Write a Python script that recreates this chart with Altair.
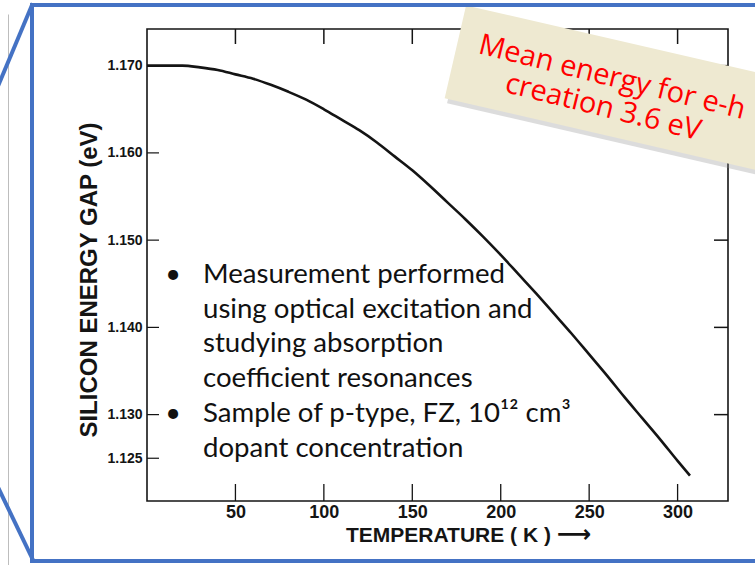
import altair as alt
import pandas as pd

# Silicon band gap versus temperature
temperature_k = [0, 10, 20, 30, 40, 50, 60, 70, 80, 90, 100, 110, 120, 130, 140, 150,
                 160, 170, 180, 190, 200, 210, 220, 230, 240, 250, 260, 270, 280, 290, 300, 307]
energy_gap_ev = [1.1700, 1.1700, 1.1700, 1.1698, 1.1695, 1.1690, 1.1685, 1.1678, 1.1670, 1.1661,
                 1.1650, 1.1638, 1.1626, 1.1612, 1.1596, 1.1580, 1.1562, 1.1543, 1.1524, 1.1504,
                 1.1483, 1.1461, 1.1439, 1.1416, 1.1393, 1.1369, 1.1345, 1.1320, 1.1296, 1.1272,
                 1.1247, 1.1230]

x_ticks = [50, 100, 150, 200, 250, 300]
y_ticks = [1.125, 1.130, 1.140, 1.150, 1.160, 1.170]
right_ticks = [1.130, 1.140, 1.150, 1.160, 1.170]

x_title = "TEMPERATURE ( K )"
x_arrow = "\u27f6"
y_title = "SILICON   ENERGY   GAP   (eV)"

bullet_lines = [
    "Measurement performed",
    "using optical excitation and",
    "studying absorption",
    "coefficient resonances",
    "Sample of p-type, FZ, 10\u00b9\u00b2 cm\u00b3",
    "dopant concentration",
]
note_lines = ["Mean energy for e-h", "creation 3.6 eV"]

# layout (pixels)
W, H = 581, 472
LEFT, TOP = 147, 29
INK = "#141414"
BLUE = "#4472C4"
SANS = "Liberation Sans, Arial, sans-serif"

xs = alt.Scale(domain=[0, 328.5], nice=False, zero=False)
ys = alt.Scale(domain=[1.1201, 1.1742], nice=False, zero=False)

x_axis = alt.Axis(values=x_ticks, title=None, domain=False, ticks=False, grid=False,
                  labelFont=SANS, labelFontSize=18, labelFontWeight="bold", labelColor=INK,
                  labelPadding=2)
y_axis = alt.Axis(values=y_ticks, format=".3f", title=None, domain=False, ticks=False, grid=False,
                  labelFont=SANS, labelFontSize=14, labelFontWeight="bold", labelColor=INK,
                  labelPadding=5)

curve_df = pd.DataFrame({"T": temperature_k, "E": energy_gap_ev})
xt_df = pd.DataFrame({"T": x_ticks})
yt_df = pd.DataFrame({"E": y_ticks})
rt_df = pd.DataFrame({"E": right_ticks})


def one():
    return alt.Data(values=[{}])


def px(x):
    return alt.value(x - LEFT)


def py(y):
    return alt.value(y - TOP)


curve = alt.Chart(curve_df).mark_line(color=INK, strokeWidth=2.6, interpolate="monotone").encode(
    x=alt.X("T:Q", scale=xs, axis=x_axis),
    y=alt.Y("E:Q", scale=ys, axis=y_axis),
)

bottom_ticks = alt.Chart(xt_df).mark_rule(color=INK, strokeWidth=1.3).encode(
    x=alt.X("T:Q", scale=xs, axis=x_axis), y=alt.value(H), y2=alt.value(H - 17))
top_ticks = alt.Chart(xt_df).mark_rule(color=INK, strokeWidth=1.5).encode(
    x=alt.X("T:Q", scale=xs, axis=x_axis), y=alt.value(0), y2=alt.value(15))
left_ticks = alt.Chart(yt_df).mark_rule(color=INK, strokeWidth=1.2).encode(
    y=alt.Y("E:Q", scale=ys, axis=y_axis), x=alt.value(0), x2=alt.value(12))
right_ticks_m = alt.Chart(rt_df).mark_rule(color=INK, strokeWidth=1.5).encode(
    y=alt.Y("E:Q", scale=ys, axis=y_axis), x=alt.value(W), x2=alt.value(W - 14))

x_title_m = alt.Chart(one()).mark_text(
    text=x_title, font=SANS, fontSize=21, fontWeight="bold", color=INK,
    align="left", baseline="alphabetic").encode(x=px(346), y=py(542))
x_arrow_m = alt.Chart(one()).mark_text(
    text=x_arrow, font="DejaVu Sans", fontSize=24, fontWeight="bold", color=INK,
    align="left", baseline="middle").encode(x=px(557), y=py(535))
y_title_m = alt.Chart(one()).mark_text(
    text=y_title, font=SANS, fontSize=24, fontWeight="bold", color=INK,
    align="center", baseline="middle", angle=270).encode(x=px(90), y=py(280))

# bullet list
bullet_text = alt.Chart(one()).mark_text(
    text=bullet_lines, font="Lato", fontSize=27.6, color="#111111", lineHeight=34.7,
    align="left", baseline="alphabetic").encode(x=px(203), y=py(283))
bullet_dots = [
    alt.Chart(one()).mark_text(text="\u2022", font="Lato", fontSize=27, color="#111111",
                               align="center", baseline="alphabetic").encode(x=px(173), y=py(by))
    for by in (283, 422)
]

# sticky note
NOTE_PATH = "M-1,-0.28L1,-0.28L1,0.28L-1,0.28Z"
note_shadow = alt.Chart(one()).mark_point(
    shape=NOTE_PATH, filled=True, color="#8a8a8a", opacity=0.3, strokeWidth=0,
    size=345 ** 2, angle=13).encode(x=px(626), y=py(95))
note = alt.Chart(one()).mark_point(
    shape=NOTE_PATH, filled=True, color="#EEE9D1", opacity=1, strokeWidth=0,
    size=340 ** 2, angle=13).encode(x=px(621), y=py(90))
note_text = [
    alt.Chart(one()).mark_text(text=t, font="Open Sans", fontSize=29, color="#FF0000",
                               align="center", baseline="alphabetic", angle=14).encode(
        x=px(nx), y=py(ny))
    for t, nx, ny in zip(note_lines, (610, 601), (86, 116))
]


# slide callout frame
def seg(x1, y1, x2, y2, color=BLUE, width=4):
    return alt.Chart(one()).mark_rule(color=color, strokeWidth=width, strokeCap="square").encode(
        x=px(x1), y=py(y1), x2=px(x2), y2=py(y2))


frame = [
    seg(8.5, 15, 8.5, 570, color="#BDBDBD", width=1),
    seg(32, 5, 760, 5),
    seg(32, 5, 32, 561),
    seg(32, 561, 760, 561),
    seg(32, 5, -4, 91),
    seg(32, 558, -4, 483),
]

chart = alt.layer(
    curve, bottom_ticks, top_ticks, left_ticks, right_ticks_m,
    x_title_m, x_arrow_m, y_title_m, bullet_text, *bullet_dots,
    note_shadow, note, *note_text, *frame,
).properties(
    width=W, height=H,
    padding={"left": LEFT, "top": TOP, "right": 755 - LEFT - W, "bottom": 565 - TOP - H},
    autosize=alt.AutoSizeParams(type="none"),
    background="white",
).configure_view(stroke=INK, strokeWidth=1.6)

chart.save("out.html", embed_options={"renderer": "svg", "actions": False})
